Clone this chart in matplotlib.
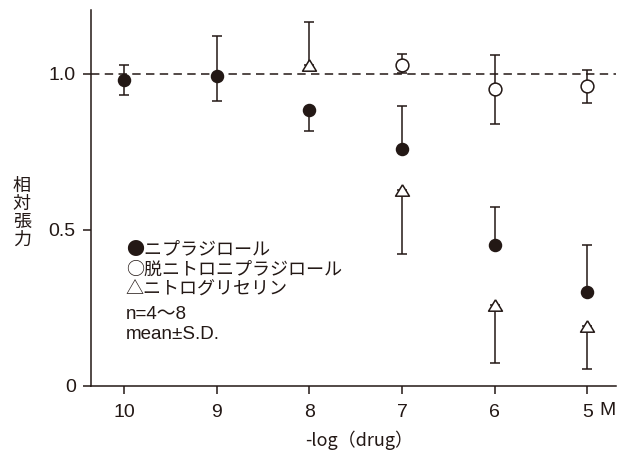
import matplotlib
matplotlib.use("Agg")
import matplotlib.pyplot as plt

plt.rcParams['font.family'] = ['Noto Sans CJK JP', 'DejaVu Sans']

# -log concentration (M)
conc = [10, 9, 8, 7, 6, 5]

# Nipradilol (filled circles)
nip_x = [10, 9, 8, 7, 6, 5]
nip_mean = [0.981, 0.994, 0.885, 0.758, 0.452, 0.302]
nip_sd_lo = [0.048, 0.081, 0.067, 0.0, 0.0, 0.0]
nip_sd_hi = [0.048, 0.128, 0.0, 0.140, 0.121, 0.151]

# Denitro-nipradilol (open circles)
den_x = [7, 6, 5]
den_mean = [1.029, 0.951, 0.962]
den_sd_lo = [0.026, 0.112, 0.054]
den_sd_hi = [0.035, 0.110, 0.049]

# Nitroglycerin (open triangles)
ntg_x = [8, 7, 6, 5]
ntg_mean = [1.028, 0.628, 0.260, 0.192]
ntg_sd_lo = [0.0, 0.204, 0.185, 0.138]
ntg_sd_hi = [0.138, 0.0, 0.0, 0.0]

y_ticks = [0, 0.5, 1.0]
y_ticklabels = ["0", "0.5", "1.0"]

legend_lines = ["●ニプラジロール", "○脱ニトロニプラジロール", "△ニトログリセリン"]
note_lines = ["n=4〜8", "mean±S.D."]

ink = '#231815'
fs = 13
latin = ['Liberation Sans', 'Noto Sans CJK JP']

fig = plt.figure(figsize=(6.21, 4.53), dpi=100)
ax = fig.add_axes([0.1465, 0.148, 0.8455, 0.830])

# flattened triangle marker
tri = [(0, 0.82), (-1, -0.82), (1, -0.82), (0, 0.82)]

def draw(x, m, lo, hi, marker, face, size, z):
    ax.errorbar(x, m, yerr=[lo, hi], fmt='none', ecolor=ink,
                elinewidth=1.1, capsize=3.6, capthick=1.1, zorder=z)
    ax.plot(x, m, linestyle='none', marker=marker, markersize=size,
            markerfacecolor=face, markeredgecolor=ink, markeredgewidth=1.1,
            zorder=z + 1)

ax.axhline(1.0, color=ink, linewidth=1.1, dashes=(5.5, 3.5), zorder=1)

draw(nip_x, nip_mean, nip_sd_lo, nip_sd_hi, 'o', ink, 8.6, 3)
draw(den_x, den_mean, den_sd_lo, den_sd_hi, 'o', 'white', 9.2, 3)
draw(ntg_x, ntg_mean, ntg_sd_lo, ntg_sd_hi, tri, 'white', 10.0, 3)

ax.set_xlim(10.356, 4.69)
ax.set_ylim(0, 1.205)
ax.set_xticks(conc)
ax.set_xticklabels([str(c) for c in conc], fontsize=14, family=latin)
ax.set_yticks(y_ticks)
ax.set_yticklabels(y_ticklabels, fontsize=14, family=latin)

for s in ['top', 'right']:
    ax.spines[s].set_visible(False)
for s in ['left', 'bottom']:
    ax.spines[s].set_color(ink)
    ax.spines[s].set_linewidth(1.1)

ax.tick_params(axis='both', direction='out', length=6, width=1.1,
               color=ink, labelcolor=ink)
ax.tick_params(axis='x', pad=7)
ax.tick_params(axis='y', pad=5)

ax.text(1.0, -0.065, "M", transform=ax.transAxes, fontsize=14,
        family=latin, color=ink, ha='right', va='center')

fig.text(0.5785, 0.028, "-log（drug）", fontsize=fs, color=ink,
         ha='center', va='center')

fig.text(0.035, 0.53, "相\n対\n張\n力", fontsize=fs, color=ink,
         ha='center', va='center', linespacing=1.0)

y0 = 0.4475
for i, t in enumerate(legend_lines):
    fig.text(0.2025, y0 - i * 0.0435, t, fontsize=fs, color=ink,
             ha='left', va='center')
for i, t in enumerate(note_lines):
    fig.text(0.2025, 0.305 - i * 0.0425, t, fontsize=13.5, family=latin,
             color=ink, ha='left', va='center')

fig.savefig("out.png", dpi=100)
